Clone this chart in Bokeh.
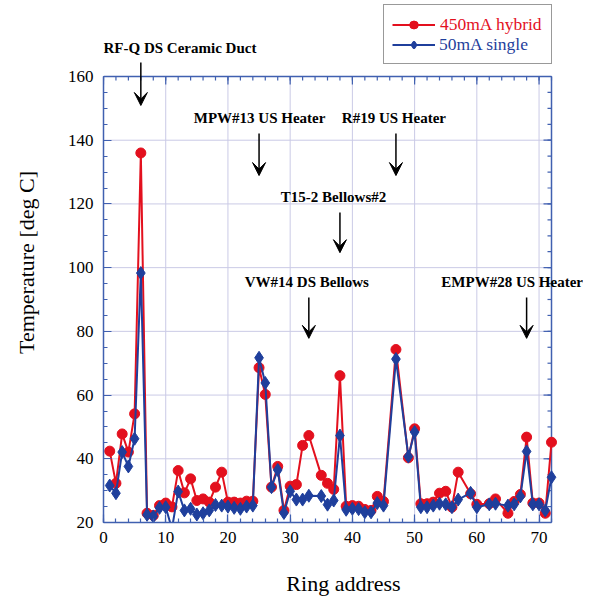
from bokeh.plotting import figure
from bokeh.models import (Range1d, FixedTicker, Legend, LegendItem,
                          Label, Arrow, VeeHead, ColumnDataSource)
from bokeh.embed import file_html
from bokeh.resources import INLINE

# ---- data ----
ring = [1, 2, 3, 4, 5, 6, 7, 8, 9, 10, 11, 12, 13, 14, 15, 16, 17, 18, 19, 20,
        21, 22, 23, 24, 25, 26, 27, 28, 29, 30, 31, 32, 33, 35, 36, 37, 38, 39,
        40, 41, 42, 43, 44, 45, 47, 49, 50, 51, 52, 53, 54, 55, 56, 57, 59, 60,
        62, 63, 65, 66, 67, 68, 69, 70, 71, 72]
hybrid_450 = [42.4, 32.3, 47.8, 42.1, 54.1, 136.0, 22.9, 22.2, 25.3, 26.1,
              24.9, 36.3, 29.3, 33.7, 26.9, 27.4, 26.4, 31.1, 35.8, 26.4,
              26.4, 26.1, 26.7, 26.7, 68.6, 60.2, 31.1, 37.6, 23.8, 31.4,
              31.9, 44.2, 47.3, 34.8, 32.3, 30.4, 66.1, 25.1,
              25.3, 25.1, 24.1, 23.8, 28.2, 26.6, 74.3, 40.3, 49.4, 25.9, 25.9,
              26.4, 29.2, 29.8, 24.8, 35.8, 29.0, 25.7,
              25.9, 27.4, 22.9, 26.6, 28.8, 46.8, 26.1, 26.1, 22.9, 45.2]
single_50 = [31.6, 29.2, 42.1, 37.6, 46.3, 98.3, 22.4, 21.9, 24.6, 24.8,
             18.0, 29.7, 23.8, 24.3, 22.5, 22.9, 23.8, 25.5, 25.3, 25.0,
             24.6, 24.3, 25.0, 25.3, 71.7, 63.8, 31.1, 36.5, 23.0, 29.8,
             27.2, 27.2, 28.4, 28.3, 25.6, 26.9, 47.3, 24.0,
             24.3, 24.2, 23.2, 23.2, 26.1, 25.3, 71.3, 40.7, 48.4, 24.8, 24.8,
             25.3, 25.9, 25.7, 24.8, 27.2, 29.3, 24.8,
             25.7, 25.9, 25.3, 25.7, 28.2, 42.3, 25.7, 25.7, 23.8, 34.2]

x_ticks = [0, 10, 20, 30, 40, 50, 60, 70]
y_ticks = [20, 40, 60, 80, 100, 120, 140, 160]
x_minor = list(range(0, 73, 2))
y_minor = list(range(20, 161, 5))
X_MIN, X_MAX = 0, 72
Y_MIN, Y_MAX = 20, 160

notes = ["RF-Q DS Ceramic Duct", "MPW#13 US Heater", "R#19 US Heater",
         "T15-2 Bellows#2", "VW#14 DS Bellows", "EMPW#28 US Heater"]
note_x = [0.0, 14.5, 38.3, 28.5, 22.7, 54.3]
note_y = [169.1, 147.1, 147.1, 122.3, 95.6, 95.6]
arrow_x = [6, 25, 47, 38, 33, 68]
arrow_top = [164.4, 142.1, 142.1, 117.3, 90.6, 90.6]
arrow_tip = [150.9, 128.9, 128.9, 104.7, 77.8, 77.8]

RED = "#e3101e"
BLUE = "#1f3f9c"
AX = "#4060b0"
GRID = "#cacae6"
SERIF = "Liberation Serif"

# plot box is 448 x 446 px; the frame extends above/right of it so that
# the legend and notes outside the box are not clipped
PX_X = 448 / (X_MAX - X_MIN)
PX_Y = 446 / (Y_MAX - Y_MIN)
FW, FH = 480, 520
p = figure(frame_width=FW, frame_height=FH,
           x_range=Range1d(X_MIN, X_MIN + FW / PX_X),
           y_range=Range1d(Y_MIN, Y_MIN + FH / PX_Y),
           output_backend="svg", toolbar_location=None,
           min_border_left=103, min_border_right=0,
           min_border_top=2, min_border_bottom=71)
p.background_fill_color = "white"
p.border_fill_color = "white"
p.outline_line_color = None
p.xgrid.visible = False
p.ygrid.visible = False

p.xaxis.ticker = FixedTicker(ticks=x_ticks, minor_ticks=x_minor)
p.yaxis.ticker = FixedTicker(ticks=y_ticks, minor_ticks=y_minor)
p.xaxis.bounds = (X_MIN, X_MAX)
p.yaxis.bounds = (Y_MIN, Y_MAX)

for ax in (p.xaxis[0], p.yaxis[0]):
    ax.axis_line_color = AX
    ax.axis_line_width = 1.5
    ax.major_tick_line_color = AX
    ax.minor_tick_line_color = AX
    ax.major_tick_line_width = 1.2
    ax.minor_tick_line_width = 1.2
    ax.major_tick_in = 8
    ax.major_tick_out = 0
    ax.minor_tick_in = 4
    ax.minor_tick_out = 0
    ax.major_label_text_font = SERIF
    ax.major_label_text_font_size = "17px"
    ax.major_label_text_color = "black"
    ax.axis_label_text_font = SERIF
    ax.axis_label_text_font_size = "22px"
    ax.axis_label_text_font_style = "normal"
    ax.axis_label_text_color = "black"

p.xaxis.axis_label = "Ring address"
p.yaxis.axis_label = "Temperature [deg C]"
p.xaxis.major_label_standoff = 9
p.xaxis.axis_label_standoff = 25
p.yaxis.major_label_standoff = 10
p.yaxis.axis_label_standoff = 26

# grid lines inside the plot box
p.segment(x0=x_ticks, y0=[Y_MIN] * len(x_ticks), x1=x_ticks, y1=[Y_MAX] * len(x_ticks),
          line_color=GRID, line_width=1)
p.segment(x0=[X_MIN] * len(y_ticks), y0=y_ticks, x1=[X_MAX] * len(y_ticks), y1=y_ticks,
          line_color=GRID, line_width=1)
# top and right edges of the plot box, with inward ticks
p.segment(x0=[X_MIN, X_MAX], y0=[Y_MAX, Y_MIN], x1=[X_MAX, X_MAX], y1=[Y_MAX, Y_MAX],
          line_color=AX, line_width=1.5)
p.segment(x0=x_ticks, y0=[Y_MAX] * len(x_ticks), x1=x_ticks,
          y1=[Y_MAX - 8 / PX_Y] * len(x_ticks), line_color=AX, line_width=1.2)
p.segment(x0=x_minor, y0=[Y_MAX] * len(x_minor), x1=x_minor,
          y1=[Y_MAX - 4 / PX_Y] * len(x_minor), line_color=AX, line_width=1.2)
p.segment(x0=[X_MAX] * len(y_ticks), y0=y_ticks, x1=[X_MAX - 8 / PX_X] * len(y_ticks),
          y1=y_ticks, line_color=AX, line_width=1.2)
p.segment(x0=[X_MAX] * len(y_minor), y0=y_minor, x1=[X_MAX - 4 / PX_X] * len(y_minor),
          y1=y_minor, line_color=AX, line_width=1.2)

r_line = p.line(ring, hybrid_450, line_color=RED, line_width=2)
r_pts = p.scatter(ring, hybrid_450, marker="circle", size=10,
                  fill_color=RED, line_color=RED)
b_line = p.line(ring, single_50, line_color=BLUE, line_width=2)
b_pts = p.scatter(ring, single_50, marker="diamond", size=13,
                  fill_color=BLUE, line_color=BLUE)

arrows = ColumnDataSource(dict(x0=arrow_x, y0=arrow_top, x1=arrow_x, y1=arrow_tip))
p.add_layout(Arrow(end=VeeHead(size=13, fill_color="black", line_color="black"),
                   x_start="x0", y_start="y0", x_end="x1", y_end="y1",
                   source=arrows, line_color="black", line_width=1.5))

for t, x, y in zip(notes, note_x, note_y):
    p.add_layout(Label(x=x, y=y, text=t, text_font=SERIF, text_font_size="15px",
                       text_font_style="bold", text_color="black",
                       text_baseline="middle", text_align="left"))

common = dict(location=(280, 458), padding=9, spacing=0, glyph_width=42,
              glyph_height=19, label_height=19, label_standoff=5,
              label_text_font=SERIF, label_text_font_size="17.5px",
              margin=0)
leg1 = Legend(items=[LegendItem(label="450mA hybrid", renderers=[r_line, r_pts]),
                     LegendItem(label=" ", renderers=[b_line, b_pts])],
              label_text_color=RED, border_line_color="#333333",
              border_line_width=1.5, background_fill_color="white",
              background_fill_alpha=1, **common)
leg2 = Legend(items=[LegendItem(label=" ", renderers=[r_line, r_pts]),
                     LegendItem(label="50mA single", renderers=[b_line, b_pts])],
              label_text_color=BLUE, border_line_alpha=0,
              background_fill_alpha=0, **common)
p.add_layout(leg1, "center")
p.add_layout(leg2, "center")

open("out.html", "w").write(file_html(p, INLINE))
